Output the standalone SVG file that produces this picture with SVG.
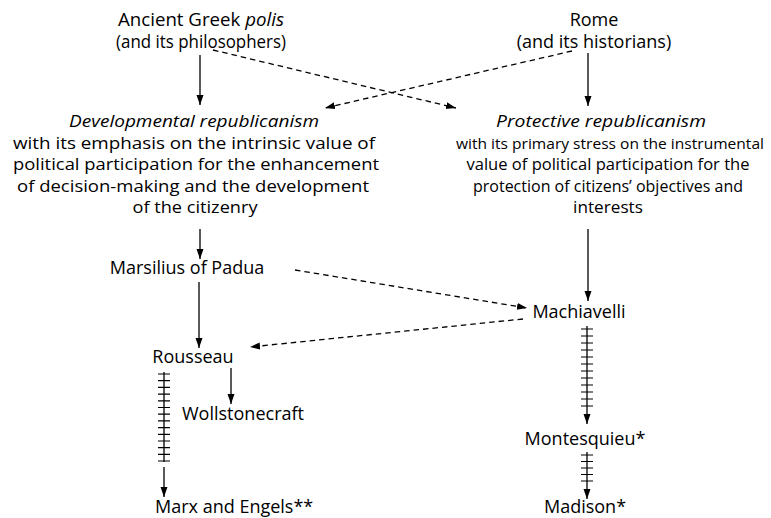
<svg xmlns="http://www.w3.org/2000/svg" width="771" height="518" viewBox="0 0 771 518">
<defs>
<marker id="ah" markerUnits="userSpaceOnUse" markerWidth="10" markerHeight="8" refX="10" refY="3.5" orient="auto">
<path d="M0,0 L10,3.5 L0,7 z" fill="#000"/>
</marker>
<style>
text{font-family:"Open Sans","Noto Sans",sans-serif;font-size:18px;fill:#000;text-anchor:middle}
.i{font-style:italic}
.l{text-anchor:start}
.r{font-size:17.2px}
.t{font-size:15px}
.s{stroke:#000;stroke-width:1.3;fill:none}
.d{stroke:#000;stroke-width:1.3;fill:none;stroke-dasharray:5.5 4}
.h{stroke:#000;stroke-width:1.2;fill:none}
</style>
</defs>
<rect width="771" height="518" fill="#fff"/>
<g id="greek">
<text x="201" y="26" textLength="166" lengthAdjust="spacingAndGlyphs">Ancient Greek <tspan class="i">polis</tspan></text>
<text x="201" y="48" textLength="170" lengthAdjust="spacingAndGlyphs">(and its philosophers)</text>
</g>
<g id="rome">
<text x="594" y="26">Rome</text>
<text x="594" y="48">(and its historians)</text>
</g>
<g id="developmental">
<text x="194" y="127" class="i r" textLength="250" lengthAdjust="spacingAndGlyphs">Developmental republicanism</text>
<text x="194" y="149" class="r" textLength="362" lengthAdjust="spacingAndGlyphs">with its emphasis on the intrinsic value of</text>
<text x="196" y="170" class="r" textLength="366" lengthAdjust="spacingAndGlyphs">political participation for the enhancement</text>
<text x="193" y="192" class="r" textLength="352" lengthAdjust="spacingAndGlyphs">of decision-making and the development</text>
<text x="195" y="213" class="r" textLength="125" lengthAdjust="spacingAndGlyphs">of the citizenry</text>
</g>
<g id="protective">
<text x="601" y="127" class="i r" textLength="210" lengthAdjust="spacingAndGlyphs">Protective republicanism</text>
<text x="610" y="149" class="t" textLength="308" lengthAdjust="spacingAndGlyphs">with its primary stress on the instrumental</text>
<text x="608" y="170" class="r" textLength="283" lengthAdjust="spacingAndGlyphs">value of political participation for the</text>
<text x="608" y="192" class="r" textLength="270" lengthAdjust="spacingAndGlyphs">protection of citizens’ objectives and</text>
<text x="608" y="213" class="r">interests</text>
</g>
<g id="marsilius"><text x="187" y="274">Marsilius of Padua</text></g>
<g id="machiavelli"><text x="579" y="318">Machiavelli</text></g>
<g id="rousseau"><text x="193" y="363">Rousseau</text></g>
<g id="wollstonecraft"><text x="182" y="420" class="l">Wollstonecraft</text></g>
<g id="marx"><text x="155" y="513" class="l">Marx and Engels**</text></g>
<g id="montesquieu"><text x="585" y="445">Montesquieu*</text></g>
<g id="madison"><text x="585" y="513">Madison*</text></g>
<g id="connectors">
<line class="s" x1="200" y1="55" x2="200" y2="105" marker-end="url(#ah)"/>
<line class="s" x1="588" y1="53" x2="588" y2="106" marker-end="url(#ah)"/>
<line class="d" x1="213" y1="50" x2="456" y2="108" marker-end="url(#ah)"/>
<line class="d" x1="572" y1="51" x2="325" y2="108" marker-end="url(#ah)"/>
<line class="s" x1="200" y1="229" x2="200" y2="259" marker-end="url(#ah)"/>
<line class="s" x1="588" y1="229" x2="588" y2="301" marker-end="url(#ah)"/>
<line class="d" x1="295" y1="270" x2="527" y2="308" marker-end="url(#ah)"/>
<line class="d" x1="523" y1="319" x2="250" y2="347" marker-end="url(#ah)"/>
<line class="s" x1="199" y1="282" x2="199" y2="348" marker-end="url(#ah)"/>
<line class="s" x1="231" y1="368" x2="231" y2="404" marker-end="url(#ah)"/>
<line class="s" x1="164" y1="372" x2="164" y2="462"/>
<path class="h" d="M158,374h12M158,380.7h12M158,387.4h12M158,394.1h12M158,400.8h12M158,407.5h12M158,414.2h12M158,420.9h12M158,427.6h12M158,434.3h12M158,441h12M158,447.7h12M158,454.4h12M158,461h12"/>
<line class="s" x1="164" y1="467" x2="164" y2="497" marker-end="url(#ah)"/>
<line class="s" x1="587" y1="326" x2="587" y2="424" marker-end="url(#ah)"/>
<path class="h" d="M581,329h12M581,336h12M581,343h12M581,350h12M581,357h12M581,364h12M581,371h12M581,378h12M581,385h12M581,392h12M581,399h12M581,406h12"/>
<line class="s" x1="587" y1="452" x2="587" y2="499" marker-end="url(#ah)"/>
<path class="h" d="M581,455h12M581,461.5h12M581,468h12M581,474.5h12M581,481h12"/>
</g>
</svg>
